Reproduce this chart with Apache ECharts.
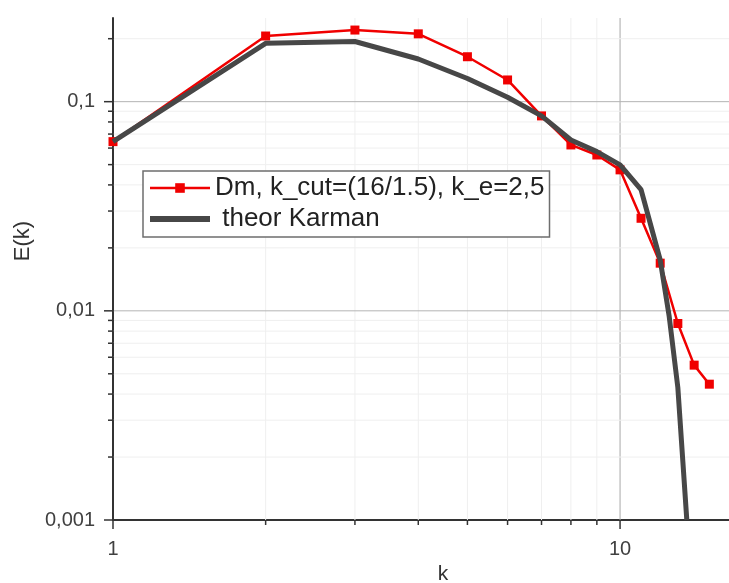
<!DOCTYPE html>
<html>
<head>
<meta charset="utf-8">
<script src="https://cdn.jsdelivr.net/npm/echarts@6/dist/echarts.min.js"></script>
<style>
  html, body { margin: 0; padding: 0; background: #fff; }
  #chart { width: 729px; height: 583px; }
</style>
</head>
<body>
<div id="chart"></div>
<script>
// measured spectrum (red) and theoretical Karman curve (grey)
const kRed = [1, 2, 3, 4, 5, 6, 7, 8, 9, 10, 11, 12, 13, 14, 15];
const eRed = [0.0644, 0.206, 0.220, 0.211, 0.164, 0.127, 0.0855, 0.0621, 0.0556, 0.0472, 0.0277, 0.0169, 0.0087, 0.0055, 0.00446];
const kTheor = [1, 2, 3, 4, 5, 6, 7, 8, 9, 10, 11, 12, 12.5, 13, 13.3, 13.54];
const eTheor = [0.0644, 0.190, 0.194, 0.160, 0.129, 0.105, 0.0855, 0.0656, 0.0577, 0.0499, 0.038, 0.0175, 0.0094, 0.0043, 0.0019, 0.001];

const redName = 'Dm, k_cut=(16/1.5), k_e=2,5';
const theorName = ' theor Karman';

// axis ranges and tick positions
const X_MIN = 1, X_MAX = 16.4;
const Y_MIN = 0.001, Y_MAX = 0.2512;
const xMajorTicks = [1, 10];
const xMinorTicks = [2, 3, 4, 5, 6, 7, 8, 9];
const yMajorTicks = [0.001, 0.01, 0.1];
const yMinorTicks = [0.002, 0.003, 0.004, 0.005, 0.006, 0.007, 0.008, 0.009,
  0.02, 0.03, 0.04, 0.05, 0.06, 0.07, 0.08, 0.09, 0.2];
const xTickLabels = ['1', '10'];
const yTickLabels = ['0,001', '0,01', '0,1'];

const FONT = "'Liberation Sans', Arial, sans-serif";

// 0 = x minor, 1 = x major, 2 = y minor, 3 = y major
const tickData = [].concat(
  xMinorTicks.map(v => [v, Y_MIN, 0]),
  xMajorTicks.map(v => [v, Y_MIN, 1]),
  yMinorTicks.map(v => [X_MIN, v, 2]),
  yMajorTicks.map(v => [X_MIN, v, 3])
);

function pickLabel(value, majors, labels) {
  for (let i = 0; i < majors.length; i++) {
    if (Math.abs(Math.log10(value) - Math.log10(majors[i])) < 1e-6) return labels[i];
  }
  return '';
}

function renderTicks(params, api) {
  const kind = api.value(2);
  const p = api.coord([api.value(0), api.value(1)]);
  const children = [];
  if (kind < 2) {
    const top = api.coord([api.value(0), Y_MAX]);
    if (api.value(0) !== X_MIN) {
      children.push({
        type: 'line',
        shape: { x1: p[0], y1: p[1], x2: top[0], y2: top[1] },
        style: { stroke: kind === 1 ? '#a8a8a8' : '#efefef', lineWidth: 1 }
      });
    }
    children.push({
      type: 'line',
      shape: { x1: p[0], y1: p[1], x2: p[0], y2: p[1] + (kind === 1 ? 9 : 5) },
      style: { stroke: '#333', lineWidth: 1.5 }
    });
  } else {
    const right = api.coord([X_MAX, api.value(1)]);
    if (api.value(1) !== Y_MIN) {
      children.push({
        type: 'line',
        shape: { x1: p[0], y1: p[1], x2: right[0], y2: right[1] },
        style: { stroke: kind === 3 ? '#b4b4b4' : '#efefef', lineWidth: 1 }
      });
    }
    children.push({
      type: 'line',
      shape: { x1: p[0] - (kind === 3 ? 9 : 5), y1: p[1], x2: p[0] + 1, y2: p[1] },
      style: { stroke: '#333', lineWidth: 1.5 }
    });
  }
  return { type: 'group', children: children };
}

const chart = echarts.init(document.getElementById('chart'));
chart.setOption({
  animation: false,
  backgroundColor: '#fff',
  textStyle: { fontFamily: FONT },
  grid: { left: 113, right: 0, top: 18, bottom: 63, containLabel: false, outerBoundsMode: 'none' },
  legend: {
    data: [
      { name: redName, lineStyle: { width: 2.5 } },
      { name: theorName, lineStyle: { width: 6 }, itemStyle: { opacity: 0 } }
    ],
    orient: 'vertical',
    left: 143,
    top: 171,
    padding: [3, 5, 4, 4],
    itemGap: 3,
    itemWidth: 60,
    itemHeight: 12,
    borderColor: '#6e6e6e',
    borderWidth: 1.5,
    borderRadius: 0,
    backgroundColor: '#fff',
    textStyle: { fontFamily: FONT, fontSize: 26, lineHeight: 28, color: '#222' }
  },
  xAxis: {
    type: 'log',
    logBase: 10,
    min: X_MIN,
    max: X_MAX,
    name: 'k',
    nameLocation: 'middle',
    nameGap: 44,
    nameMoveOverlap: false,
    nameTextStyle: { fontFamily: FONT, fontSize: 21, color: '#333', padding: [0, 0, 0, 44] },
    axisLine: { show: true, lineStyle: { color: '#333', width: 2 } },
    axisTick: { show: false },
    minorTick: { show: false },
    splitLine: { show: false },
    axisLabel: {
      margin: 19,
      fontSize: 20,
      color: '#404040',
      fontFamily: FONT,
      formatter: v => pickLabel(v, xMajorTicks, xTickLabels)
    }
  },
  yAxis: {
    type: 'log',
    logBase: 10,
    min: Y_MIN,
    max: Y_MAX,
    name: 'E(k)',
    nameLocation: 'middle',
    nameGap: 78,
    nameTextStyle: { fontFamily: FONT, fontSize: 22, color: '#333', padding: [0, 0, 0, 56] },
    axisLine: { show: true, lineStyle: { color: '#333', width: 2 } },
    axisTick: { show: false },
    minorTick: { show: false },
    splitLine: { show: false },
    axisLabel: {
      margin: 18,
      fontSize: 20,
      color: '#404040',
      fontFamily: FONT,
      formatter: v => pickLabel(v, yMajorTicks, yTickLabels)
    }
  },
  series: [
    {
      type: 'custom',
      name: 'ticks',
      silent: true,
      clip: false,
      z: 1,
      renderItem: renderTicks,
      data: tickData
    },
    {
      type: 'line',
      name: redName,
      data: kRed.map((k, i) => [k, eRed[i]]),
      symbol: 'rect',
      symbolSize: 9,
      showSymbol: true,
      color: '#f00000',
      lineStyle: { color: '#f00000', width: 2.5 },
      itemStyle: { color: '#f00000' },
      z: 2
    },
    {
      type: 'line',
      name: theorName,
      data: kTheor.map((k, i) => [k, eTheor[i]]),
      symbol: 'none',
      showSymbol: false,
      color: '#474747',
      lineStyle: { color: '#474747', width: 5 },
      z: 3
    }
  ]
});
</script>
</body>
</html>
